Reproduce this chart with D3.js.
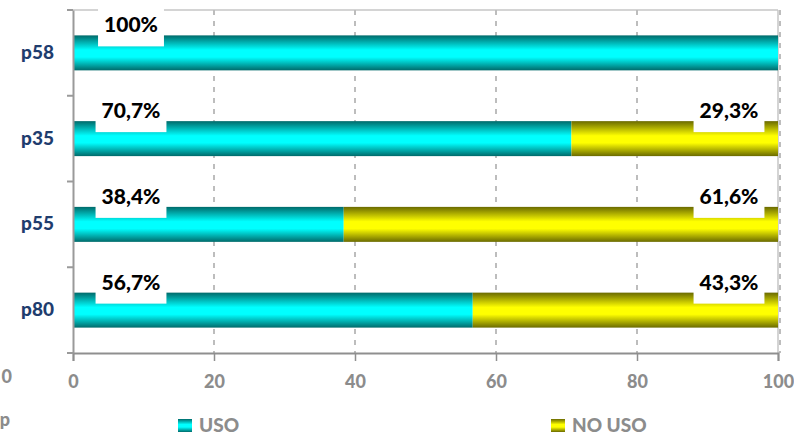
<!DOCTYPE html>
<html><head><meta charset="utf-8">
<script src="https://cdn.jsdelivr.net/npm/d3@7"></script>
<style>body{margin:0;background:#fff}svg{display:block}</style>
</head><body>
<script>
const categories = ["p58","p35","p55","p80"];
const usoValues = [100, 70.7, 38.4, 56.7];
const noUsoValues = [0, 29.3, 61.6, 43.3];
const usoLabels = ["100%","70,7%","38,4%","56,7%"];
const noUsoLabels = ["","29,3%","61,6%","43,3%"];
const xTicks = [0,20,40,60,80,100];
const seriesNames = ["USO","NO USO"];

const W = 794, H = 435;
const FONT = "Lato, 'Open Sans', sans-serif";
const svg = d3.select("body").append("svg").attr("width", W).attr("height", H);
const defs = svg.append("defs");
function grad(id, dark, bright){
  const g = defs.append("linearGradient").attr("id", id).attr("x1",0).attr("y1",0).attr("x2",0).attr("y2",1);
  [[0,dark],[0.42,bright],[0.62,bright],[1,dark]].forEach(([o,c])=>g.append("stop").attr("offset",o).attr("stop-color",c));
}
grad("gCyan", "#006a6a", "#00ffff");
grad("gYellow", "#6a6a00", "#ffff00");

const x = d3.scaleLinear().domain([0,100]).range([73,778]);
const y = d3.scaleBand().domain(categories).range([10,353]).paddingInner(0.592).paddingOuter(0.296);
const step = y.step();

// borders top / right
svg.append("line").attr("x1",x(0)-6).attr("x2",x(100)).attr("y1",10).attr("y2",10).attr("stroke","#c6c6c6").attr("stroke-width",1.5);
svg.append("line").attr("x1",x(100)).attr("x2",x(100)).attr("y1",10).attr("y2",353).attr("stroke","#c6c6c6").attr("stroke-width",1.5);

// gridlines
svg.append("g").selectAll("line").data(xTicks.filter(d=>d>0)).join("line")
  .attr("x1",d=>x(d)+ (d===100?2:0)).attr("x2",d=>x(d)+(d===100?2:0)).attr("y1",10).attr("y2",353)
  .attr("stroke","#bdbdbd").attr("stroke-width",2).attr("stroke-dasharray","5,6");

// bars
const rows = categories.map((c,i)=>({c, uso:usoValues[i], no:noUsoValues[i], ul:usoLabels[i], nl:noUsoLabels[i]}));
const bars = svg.append("g");
bars.selectAll(".u").data(rows).join("rect")
  .attr("x",x(0)).attr("y",d=>y(d.c)).attr("width",d=>x(d.uso)-x(0)).attr("height",y.bandwidth()).attr("fill","url(#gCyan)");
bars.selectAll(".n").data(rows.filter(d=>d.no>0)).join("rect")
  .attr("x",d=>x(d.uso)).attr("y",d=>y(d.c)).attr("width",d=>x(d.uso+d.no)-x(d.uso)).attr("height",y.bandwidth()).attr("fill","url(#gYellow)");

// axes
const ax = svg.append("g").attr("transform","translate(0,353)")
  .call(d3.axisBottom(x).tickValues(xTicks).tickSize(8).tickPadding(14).tickFormat(d3.format("d")));
ax.select(".domain").attr("stroke","#8f8f8f").attr("stroke-width",2);
ax.selectAll(".tick line").attr("stroke","#8f8f8f").attr("stroke-width",1.5);
ax.selectAll("text").attr("fill","#8c8c8c").attr("font-family",FONT).attr("font-weight","900").attr("font-size",18);

const ay = svg.append("g").attr("transform",`translate(${x(0)},0)`)
  .call(d3.axisLeft(y).tickSize(0).tickPadding(19));
ay.select(".domain").attr("stroke","#9a9a9a").attr("stroke-width",2);
ay.selectAll("text").attr("fill","#1f3d6e").attr("font-family",FONT).attr("font-weight","900").attr("font-size",19);
// band boundary ticks
svg.append("g").selectAll("line").data(d3.range(categories.length+1)).join("line")
  .attr("x1",x(0)-6).attr("x2",x(0)).attr("y1",i=>10+i*step).attr("y2",i=>10+i*step)
  .attr("stroke","#9a9a9a").attr("stroke-width",2);

// data labels
function addLabel(txt, cx, barTop){
  if(!txt) return;
  const g = svg.append("g");
  const r = g.append("rect").attr("fill","#fff");
  const t = g.append("text").attr("x",cx).attr("y",barTop-3).attr("text-anchor","middle")
    .attr("font-family",FONT).attr("font-weight","900").attr("font-size",21).attr("fill","#000").text(txt);
  const bb = t.node().getBBox();
  r.attr("x",cx-bb.width/2-6).attr("width",bb.width+12).attr("y",barTop-27).attr("height",38);
}
rows.forEach(d=>{
  addLabel(d.ul, x(0)+58, y(d.c));
  addLabel(d.nl, x(100)-49, y(d.c));
});

// legend
const legend = [{name:seriesNames[0], fill:"url(#gCyan)", x:178},{name:seriesNames[1], fill:"url(#gYellow)", x:551}];
const lg = svg.append("g").selectAll("g").data(legend).join("g");
lg.append("rect").attr("x",d=>d.x).attr("y",419).attr("width",14).attr("height",13).attr("fill",d=>d.fill);
lg.append("text").attr("x",d=>d.x+21).attr("y",432).attr("font-family",FONT).attr("font-weight","900")
  .attr("font-size",19).attr("fill","#8c8c8c").text(d=>d.name);

// fragments at left edge
svg.append("text").attr("x",12).attr("y",383).attr("text-anchor","end").attr("font-family",FONT).attr("font-weight","900").attr("font-size",18).attr("fill","#8c8c8c").text("0");
svg.append("text").attr("x",10).attr("y",426).attr("text-anchor","end").attr("font-family",FONT).attr("font-weight","900").attr("font-size",18).attr("fill","#8c8c8c").text("p");
</script>
</body></html>
